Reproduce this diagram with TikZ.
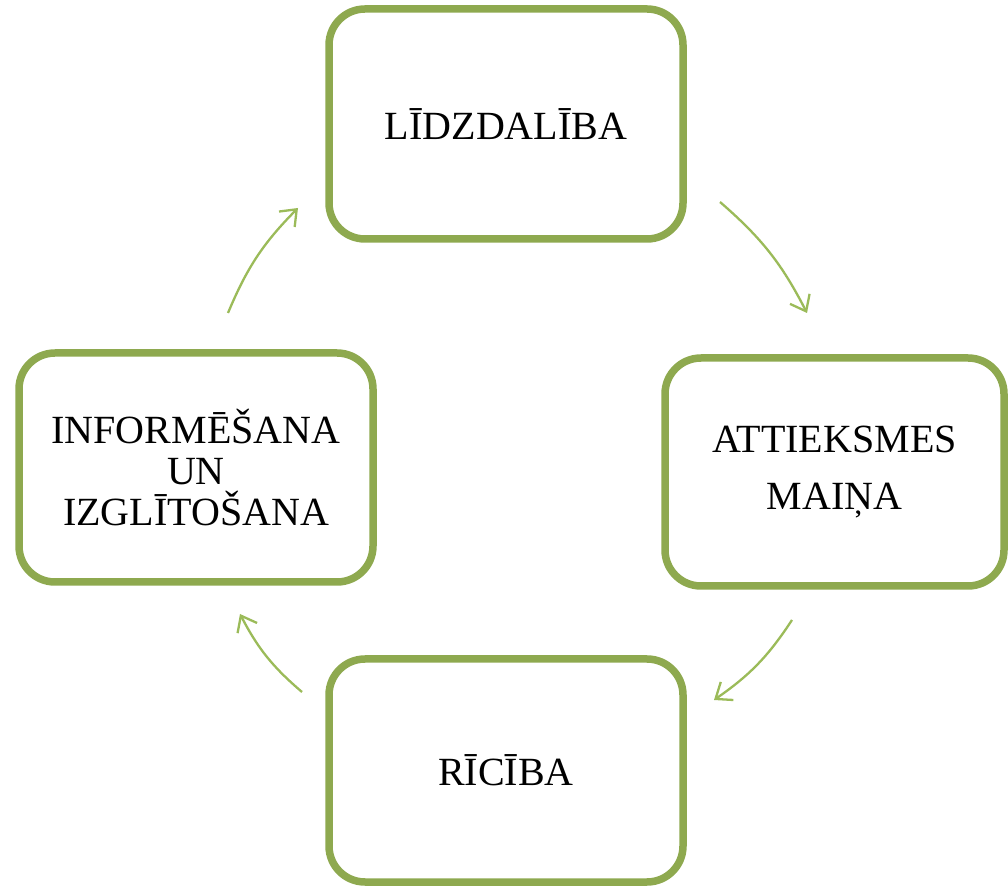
\documentclass[tikz,border=0pt]{standalone}
\usepackage{fontspec}
\setmainfont{Liberation Serif}
\usetikzlibrary{arrows.meta}
\definecolor{boxgreen}{HTML}{8EA94F}
\definecolor{arrgreen}{HTML}{9BBB59}
\tikzset{
  stagebox/.style={draw=boxgreen, line width=7.5pt, rounded corners=36pt, fill=white,
    inner sep=0pt, align=center, font=\fontsize{40}{41}\selectfont},
  cyclearrow/.style={draw=arrgreen, line width=2.3pt,
    -{Straight Barb[length=14pt,width=22pt,line width=2.3pt]}}
}
\begin{document}
\begin{tikzpicture}[x=1pt,y=1pt]
\useasboundingbox (0,0) rectangle (1008,886);
\node[stagebox, minimum width=354pt, minimum height=230pt] (top) at (506,762) {LĪDZDALĪBA};
\node[stagebox, minimum width=339pt, minimum height=228pt, font=\fontsize{40}{57}\selectfont] (right) at (834.5,414) {ATTIEKSMES\\MAIŅA};
\node[stagebox, minimum width=354pt, minimum height=229pt] (left) at (196,418.5) {INFORMĒŠANA\\UN\\IZGLĪTOŠANA};
\node[stagebox, minimum width=354pt, minimum height=223pt] (bottom) at (506,115.5) {RĪCĪBA};
\coordinate (a1s) at (228,573);
\coordinate (a1e) at (298,678);
\coordinate (a2s) at (720,684);
\coordinate (a2e) at (807,573);
\coordinate (a3s) at (792,266);
\coordinate (a3e) at (714,186);
\coordinate (a4s) at (302,194);
\coordinate (a4e) at (240,272);
\draw[cyclearrow] (a1s) to[bend left=11] (a1e);
\draw[cyclearrow] (a2s) to[bend left=11] (a2e);
\draw[cyclearrow] (a3s) to[bend left=11] (a3e);
\draw[cyclearrow] (a4s) to[bend left=11] (a4e);
\end{tikzpicture}
\end{document}
